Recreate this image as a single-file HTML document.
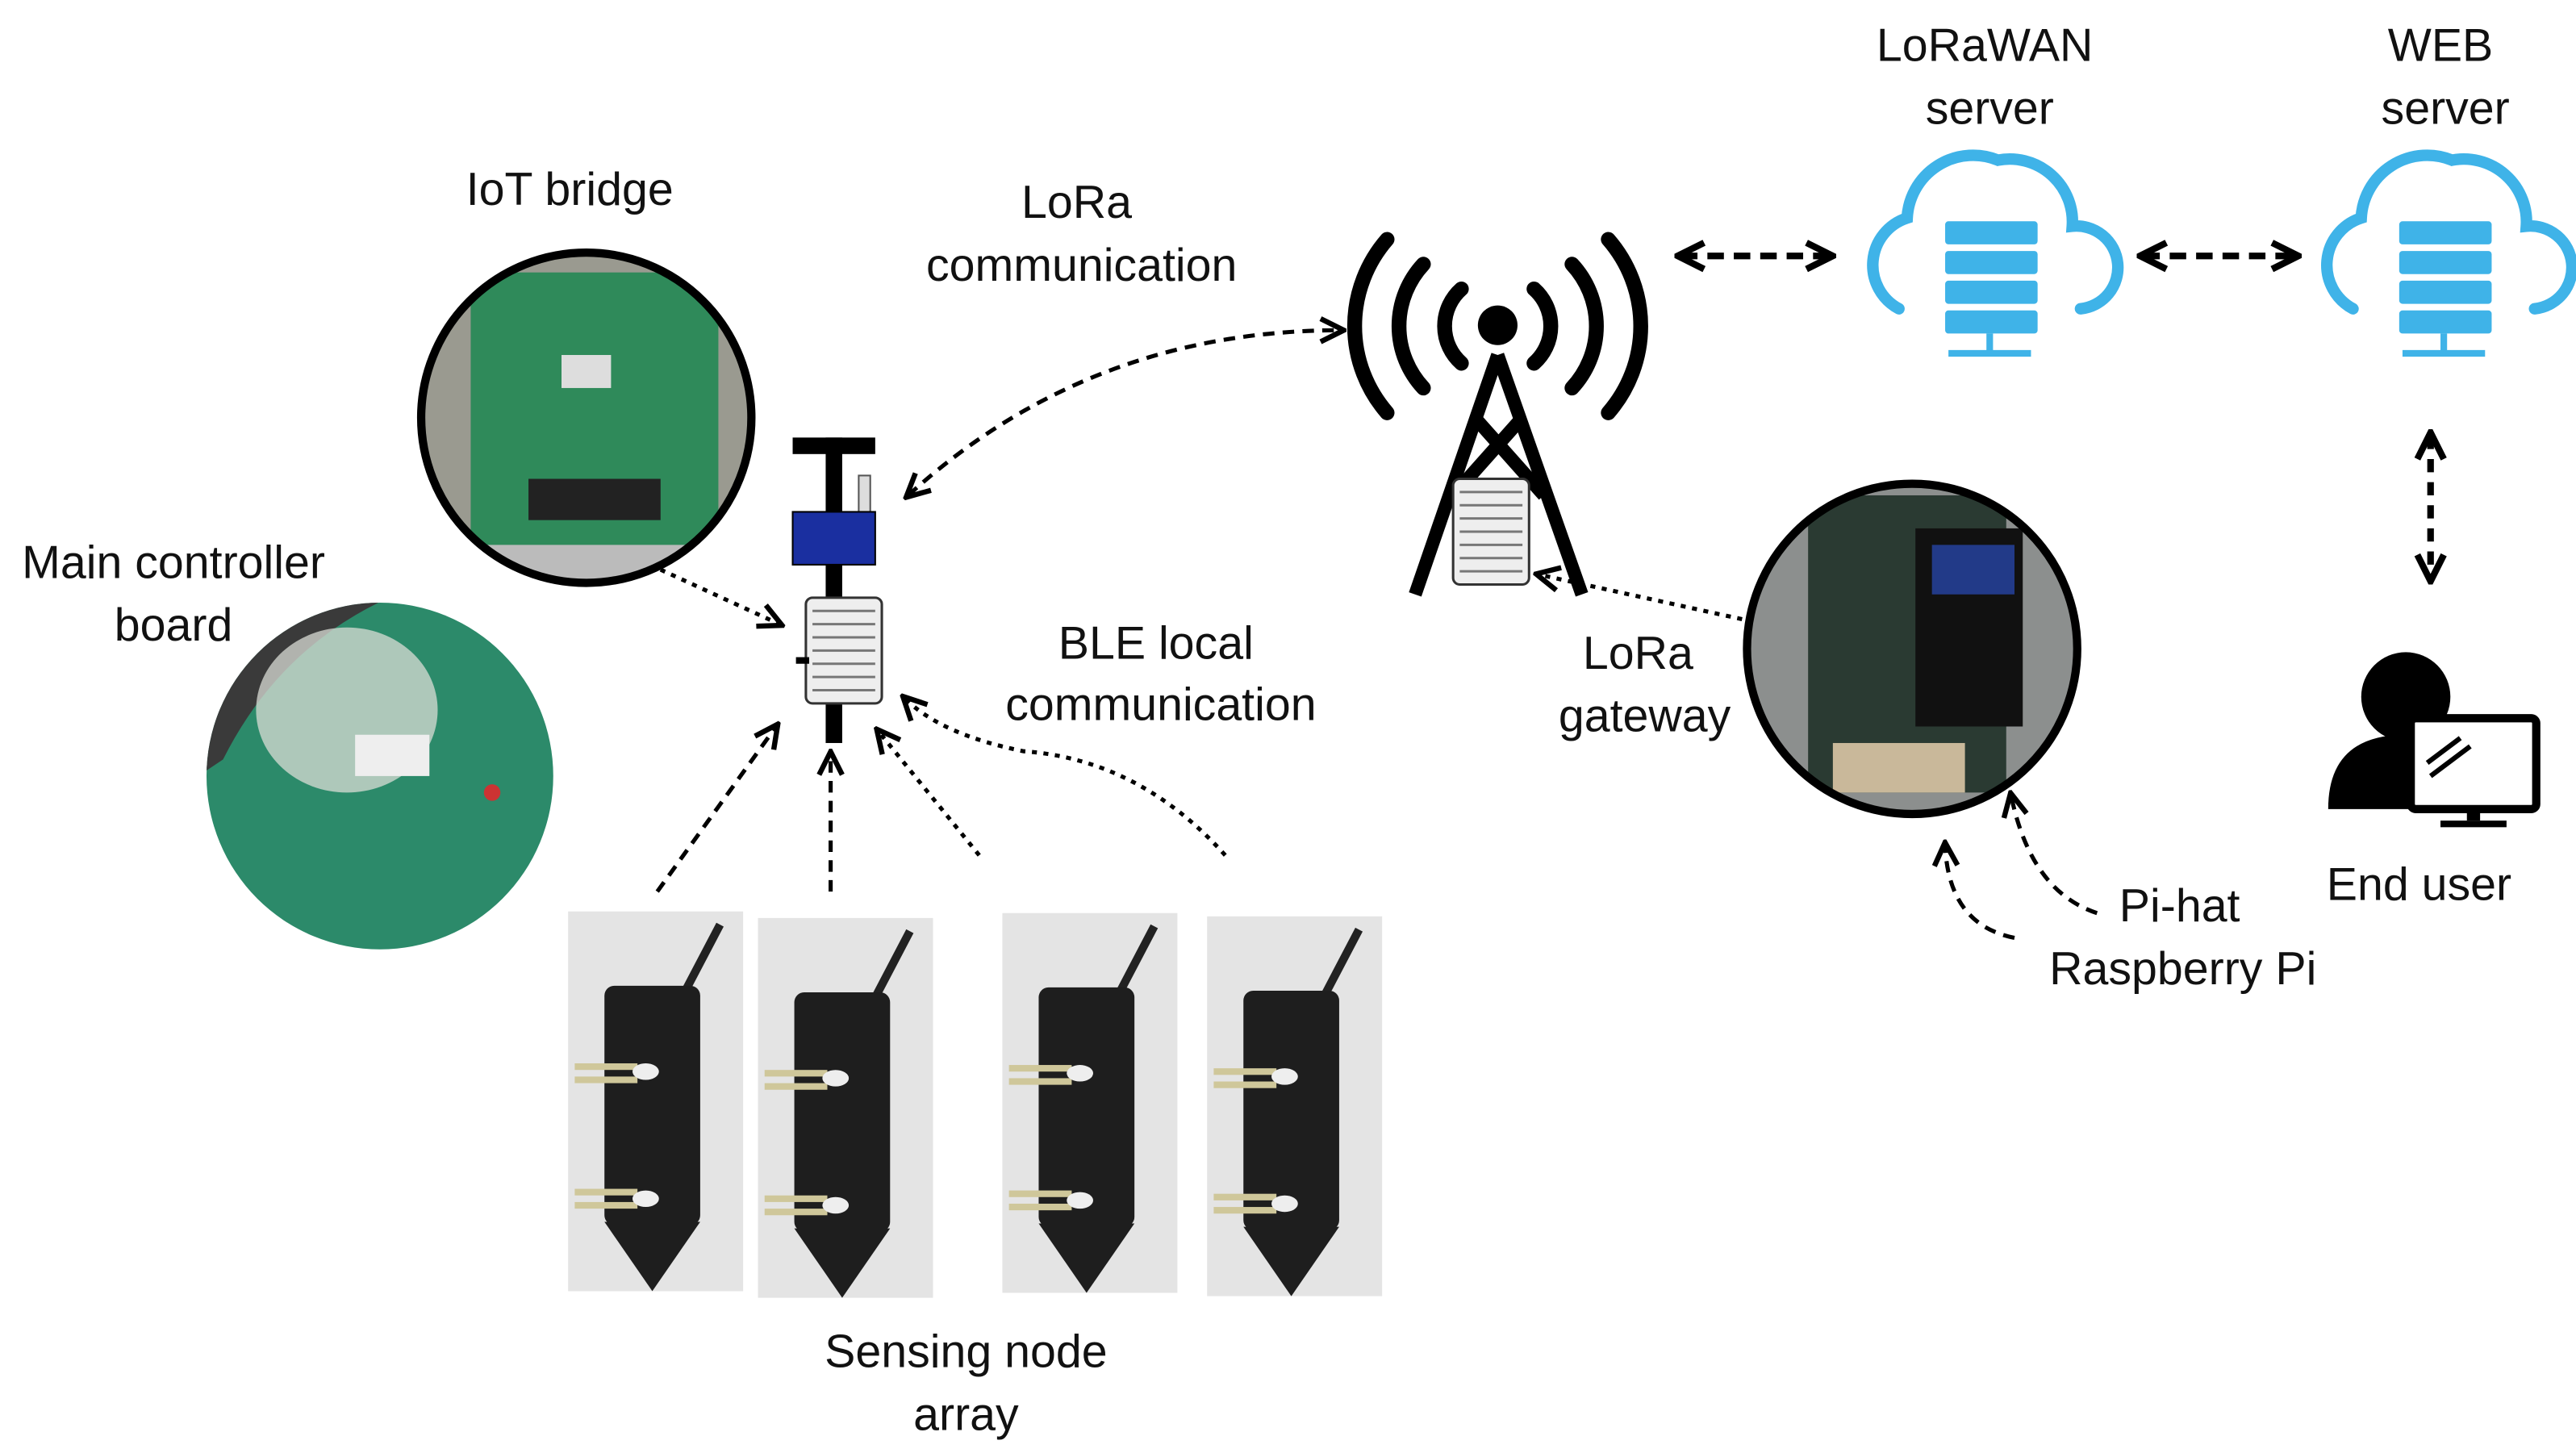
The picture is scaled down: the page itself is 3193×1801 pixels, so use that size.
<!DOCTYPE html>
<html><head><meta charset="utf-8"><style>
html,body{margin:0;padding:0;background:#fff;}
svg{display:block;}
text{font-family:"Liberation Sans",sans-serif;font-size:28px;fill:#111;text-anchor:middle;}
</style></head><body>
<svg width="3193" height="1801" viewBox="0 0 1560 880" xmlns="http://www.w3.org/2000/svg">
<defs>
<marker id="ah" viewBox="0 0 10 10" refX="8" refY="5" markerWidth="7" markerHeight="7" orient="auto-start-reverse"><path d="M1,1 L9,5 L1,9" fill="none" stroke="#000" stroke-width="1.8"/></marker>
<marker id="ahb" viewBox="0 0 10 10" refX="8" refY="5" markerWidth="5" markerHeight="5" orient="auto-start-reverse"><path d="M1,1 L9,5 L1,9" fill="none" stroke="#000" stroke-width="2"/></marker>
<clipPath id="c1"><circle cx="355" cy="253" r="100"/></clipPath>
<clipPath id="c2"><circle cx="230" cy="470" r="105"/></clipPath>
<clipPath id="c3"><circle cx="1158" cy="393" r="100"/></clipPath>
<g id="node">
<rect x="0" y="0" width="106" height="230" fill="#e4e4e4"/>
<line x1="70" y1="50" x2="92" y2="8" stroke="#222" stroke-width="5"/>
<rect x="22" y="45" width="58" height="145" rx="6" fill="#1e1e1e"/>
<polygon points="22,188 80,188 51,230" fill="#1e1e1e"/>
<rect x="4" y="92" width="38" height="4" fill="#cfc79a"/><rect x="4" y="100" width="38" height="4" fill="#cfc79a"/>
<ellipse cx="47" cy="97" rx="8" ry="5" fill="#eee"/>
<rect x="4" y="168" width="38" height="4" fill="#cfc79a"/><rect x="4" y="176" width="38" height="4" fill="#cfc79a"/>
<ellipse cx="47" cy="174" rx="8" ry="5" fill="#eee"/>
</g>
<g id="cloud">
<path d="M-55,45 A30,30 0 0 1 -50,-10 A40,40 0 0 1 5,-45 A38,38 0 0 1 50,-5 A25,25 0 0 1 55,45" fill="none" stroke="#3fb3e8" stroke-width="7" stroke-linecap="round"/>
<rect x="-27" y="-8" width="56" height="14" rx="2" fill="#3fb3e8"/>
<rect x="-27" y="10" width="56" height="14" rx="2" fill="#3fb3e8"/>
<rect x="-27" y="28" width="56" height="14" rx="2" fill="#3fb3e8"/>
<rect x="-27" y="46" width="56" height="14" rx="2" fill="#3fb3e8"/>
<line x1="0" y1="60" x2="0" y2="72" stroke="#3fb3e8" stroke-width="4"/>
<line x1="-25" y1="72" x2="25" y2="72" stroke="#3fb3e8" stroke-width="4"/>
</g>
<g id="box">
<rect x="0" y="0" width="46" height="64" rx="4" fill="#eee" stroke="#333" stroke-width="1.5"/>
<g stroke="#777" stroke-width="1.5"><line x1="4" y1="8" x2="42" y2="8"/><line x1="4" y1="16" x2="42" y2="16"/><line x1="4" y1="24" x2="42" y2="24"/><line x1="4" y1="32" x2="42" y2="32"/><line x1="4" y1="40" x2="42" y2="40"/><line x1="4" y1="48" x2="42" y2="48"/><line x1="4" y1="56" x2="42" y2="56"/></g>
</g>
</defs>

<text x="345" y="124">IoT bridge</text>
<text x="105" y="350">Main controller</text><text x="105" y="388">board</text>
<text x="652" y="132">LoRa</text><text x="655" y="170">communication</text>
<text x="1202" y="37">LoRaWAN</text><text x="1205" y="75">server</text>
<text x="1478" y="37">WEB</text><text x="1481" y="75">server</text>
<text x="700" y="399">BLE local</text><text x="703" y="436">communication</text>
<text x="992" y="405">LoRa</text><text x="996" y="443">gateway</text>
<text x="1320" y="558">Pi-hat</text><text x="1322" y="596">Raspberry Pi</text>
<text x="1465" y="545">End user</text>
<text x="585" y="828">Sensing node</text><text x="585" y="866">array</text>

<!-- IoT bridge photo -->
<g clip-path="url(#c1)">
<rect x="250" y="150" width="210" height="210" fill="#9a9a90"/>
<rect x="285" y="165" width="150" height="170" fill="#2f8a5a"/>
<rect x="340" y="215" width="30" height="20" fill="#ddd"/>
<rect x="320" y="290" width="80" height="25" fill="#222"/>
<rect x="250" y="330" width="210" height="30" fill="#bbb"/>
</g>
<circle cx="355" cy="253" r="100" fill="none" stroke="#000" stroke-width="5"/>

<!-- Main controller photo -->
<g clip-path="url(#c2)">
<rect x="120" y="360" width="220" height="220" fill="#2c8a6a"/>
<path d="M120,360 L240,360 Q170,390 135,460 L120,470 Z" fill="#3a3a3a"/>
<ellipse cx="210" cy="430" rx="55" ry="50" fill="#d9dcd6" opacity="0.75"/>
<rect x="215" y="445" width="45" height="25" fill="#eee"/>
<circle cx="298" cy="480" r="5" fill="#c33"/>
</g>

<!-- pole device -->
<rect x="480" y="265" width="50" height="10" fill="#000"/>
<rect x="500" y="265" width="10" height="185" fill="#000"/>
<rect x="520" y="288" width="7" height="25" fill="#ddd" stroke="#555"/>
<rect x="480" y="310" width="50" height="32" fill="#1a2fa0" stroke="#000"/>
<use href="#box" x="488" y="362"/>
<rect x="482" y="398" width="8" height="4" fill="#000"/>

<!-- tower -->
<g fill="none" stroke="#000" stroke-width="9" stroke-linecap="round">
<path d="M885,175 A30,30 0 0 0 885,220"/><path d="M929,175 A30,30 0 0 1 929,220"/>
<path d="M862,160 A55,55 0 0 0 862,235"/><path d="M952,160 A55,55 0 0 1 952,235"/>
<path d="M840,145 A80,80 0 0 0 840,250"/><path d="M974,145 A80,80 0 0 1 974,250"/>
</g>
<circle cx="907" cy="197" r="12" fill="#000"/>
<g stroke="#000" stroke-width="8" fill="none">
<line x1="907" y1="215" x2="857" y2="360"/><line x1="907" y1="215" x2="958" y2="360"/>
<line x1="895" y1="255" x2="935" y2="300"/><line x1="920" y1="255" x2="880" y2="300"/>
</g>
<use href="#box" x="880" y="290"/>

<!-- clouds -->
<use href="#cloud" x="1205" y="142"/>
<use href="#cloud" x="1480" y="142"/>

<!-- end user -->
<circle cx="1457" cy="422" r="27" fill="#000"/>
<path d="M1410,490 Q1410,445 1457,445 Q1490,445 1500,470 L1500,490 Z" fill="#000"/>
<rect x="1460" y="435" width="76" height="55" rx="3" fill="#fff" stroke="#000" stroke-width="5"/>
<line x1="1470" y1="462" x2="1490" y2="447" stroke="#000" stroke-width="3"/><line x1="1472" y1="470" x2="1496" y2="452" stroke="#000" stroke-width="3"/>
<rect x="1494" y="490" width="8" height="7" fill="#000"/><rect x="1478" y="497" width="40" height="4" fill="#000"/>

<!-- gateway photo -->
<g clip-path="url(#c3)">
<rect x="1055" y="290" width="210" height="210" fill="#8c8f8e"/>
<rect x="1095" y="300" width="120" height="180" fill="#2a3a32"/>
<rect x="1160" y="320" width="65" height="120" fill="#111"/>
<rect x="1170" y="330" width="50" height="30" fill="#223a88"/>
<rect x="1110" y="450" width="80" height="30" fill="#c9b89a"/>
</g>
<circle cx="1158" cy="393" r="100" fill="none" stroke="#000" stroke-width="5"/>

<!-- sensing nodes -->
<use href="#node" x="344" y="552"/>
<use href="#node" x="459" y="556"/>
<use href="#node" x="607" y="553"/>
<use href="#node" x="731" y="555"/>

<!-- connectors -->
<g fill="none" stroke="#000" stroke-width="3">
<path d="M550,300 Q660,200 812,200" stroke-dasharray="7,5" marker-start="url(#ah)" marker-end="url(#ah)" stroke-width="2.5"/>
<line x1="1018" y1="155" x2="1108" y2="155" stroke-dasharray="10,6" stroke-width="4" marker-start="url(#ahb)" marker-end="url(#ahb)"/>
<line x1="1298" y1="155" x2="1390" y2="155" stroke-dasharray="10,6" stroke-width="4" marker-start="url(#ahb)" marker-end="url(#ahb)"/>
<line x1="1472" y1="264" x2="1472" y2="350" stroke-dasharray="8,6" stroke-width="4" marker-start="url(#ahb)" marker-end="url(#ahb)"/>
<line x1="1055" y1="375" x2="932" y2="348" stroke-dasharray="3,4" stroke-width="2.5" marker-end="url(#ah)"/>
<path d="M1270,553 Q1230,540 1218,482" stroke-dasharray="7,5" stroke-width="2.5" marker-end="url(#ah)"/>
<path d="M1220,568 Q1180,560 1178,512" stroke-dasharray="7,5" stroke-width="2.5" marker-end="url(#ah)"/>
<line x1="400" y1="345" x2="472" y2="378" stroke-dasharray="3,4" stroke-width="2.5" marker-end="url(#ah)"/>
<line x1="398" y1="540" x2="470" y2="440" stroke-dasharray="7,5" stroke-width="2.5" marker-end="url(#ah)"/>
<line x1="503" y1="540" x2="503" y2="457" stroke-dasharray="7,5" stroke-width="2.5" marker-end="url(#ah)"/>
<line x1="593" y1="518" x2="532" y2="443" stroke-dasharray="3,4" stroke-width="2.5" marker-end="url(#ah)"/>
<path d="M742,518 Q690,460 620,455 Q570,445 548,423" stroke-dasharray="3,4" stroke-width="2.5" marker-end="url(#ah)"/>
</g>
</svg>
</body></html>
